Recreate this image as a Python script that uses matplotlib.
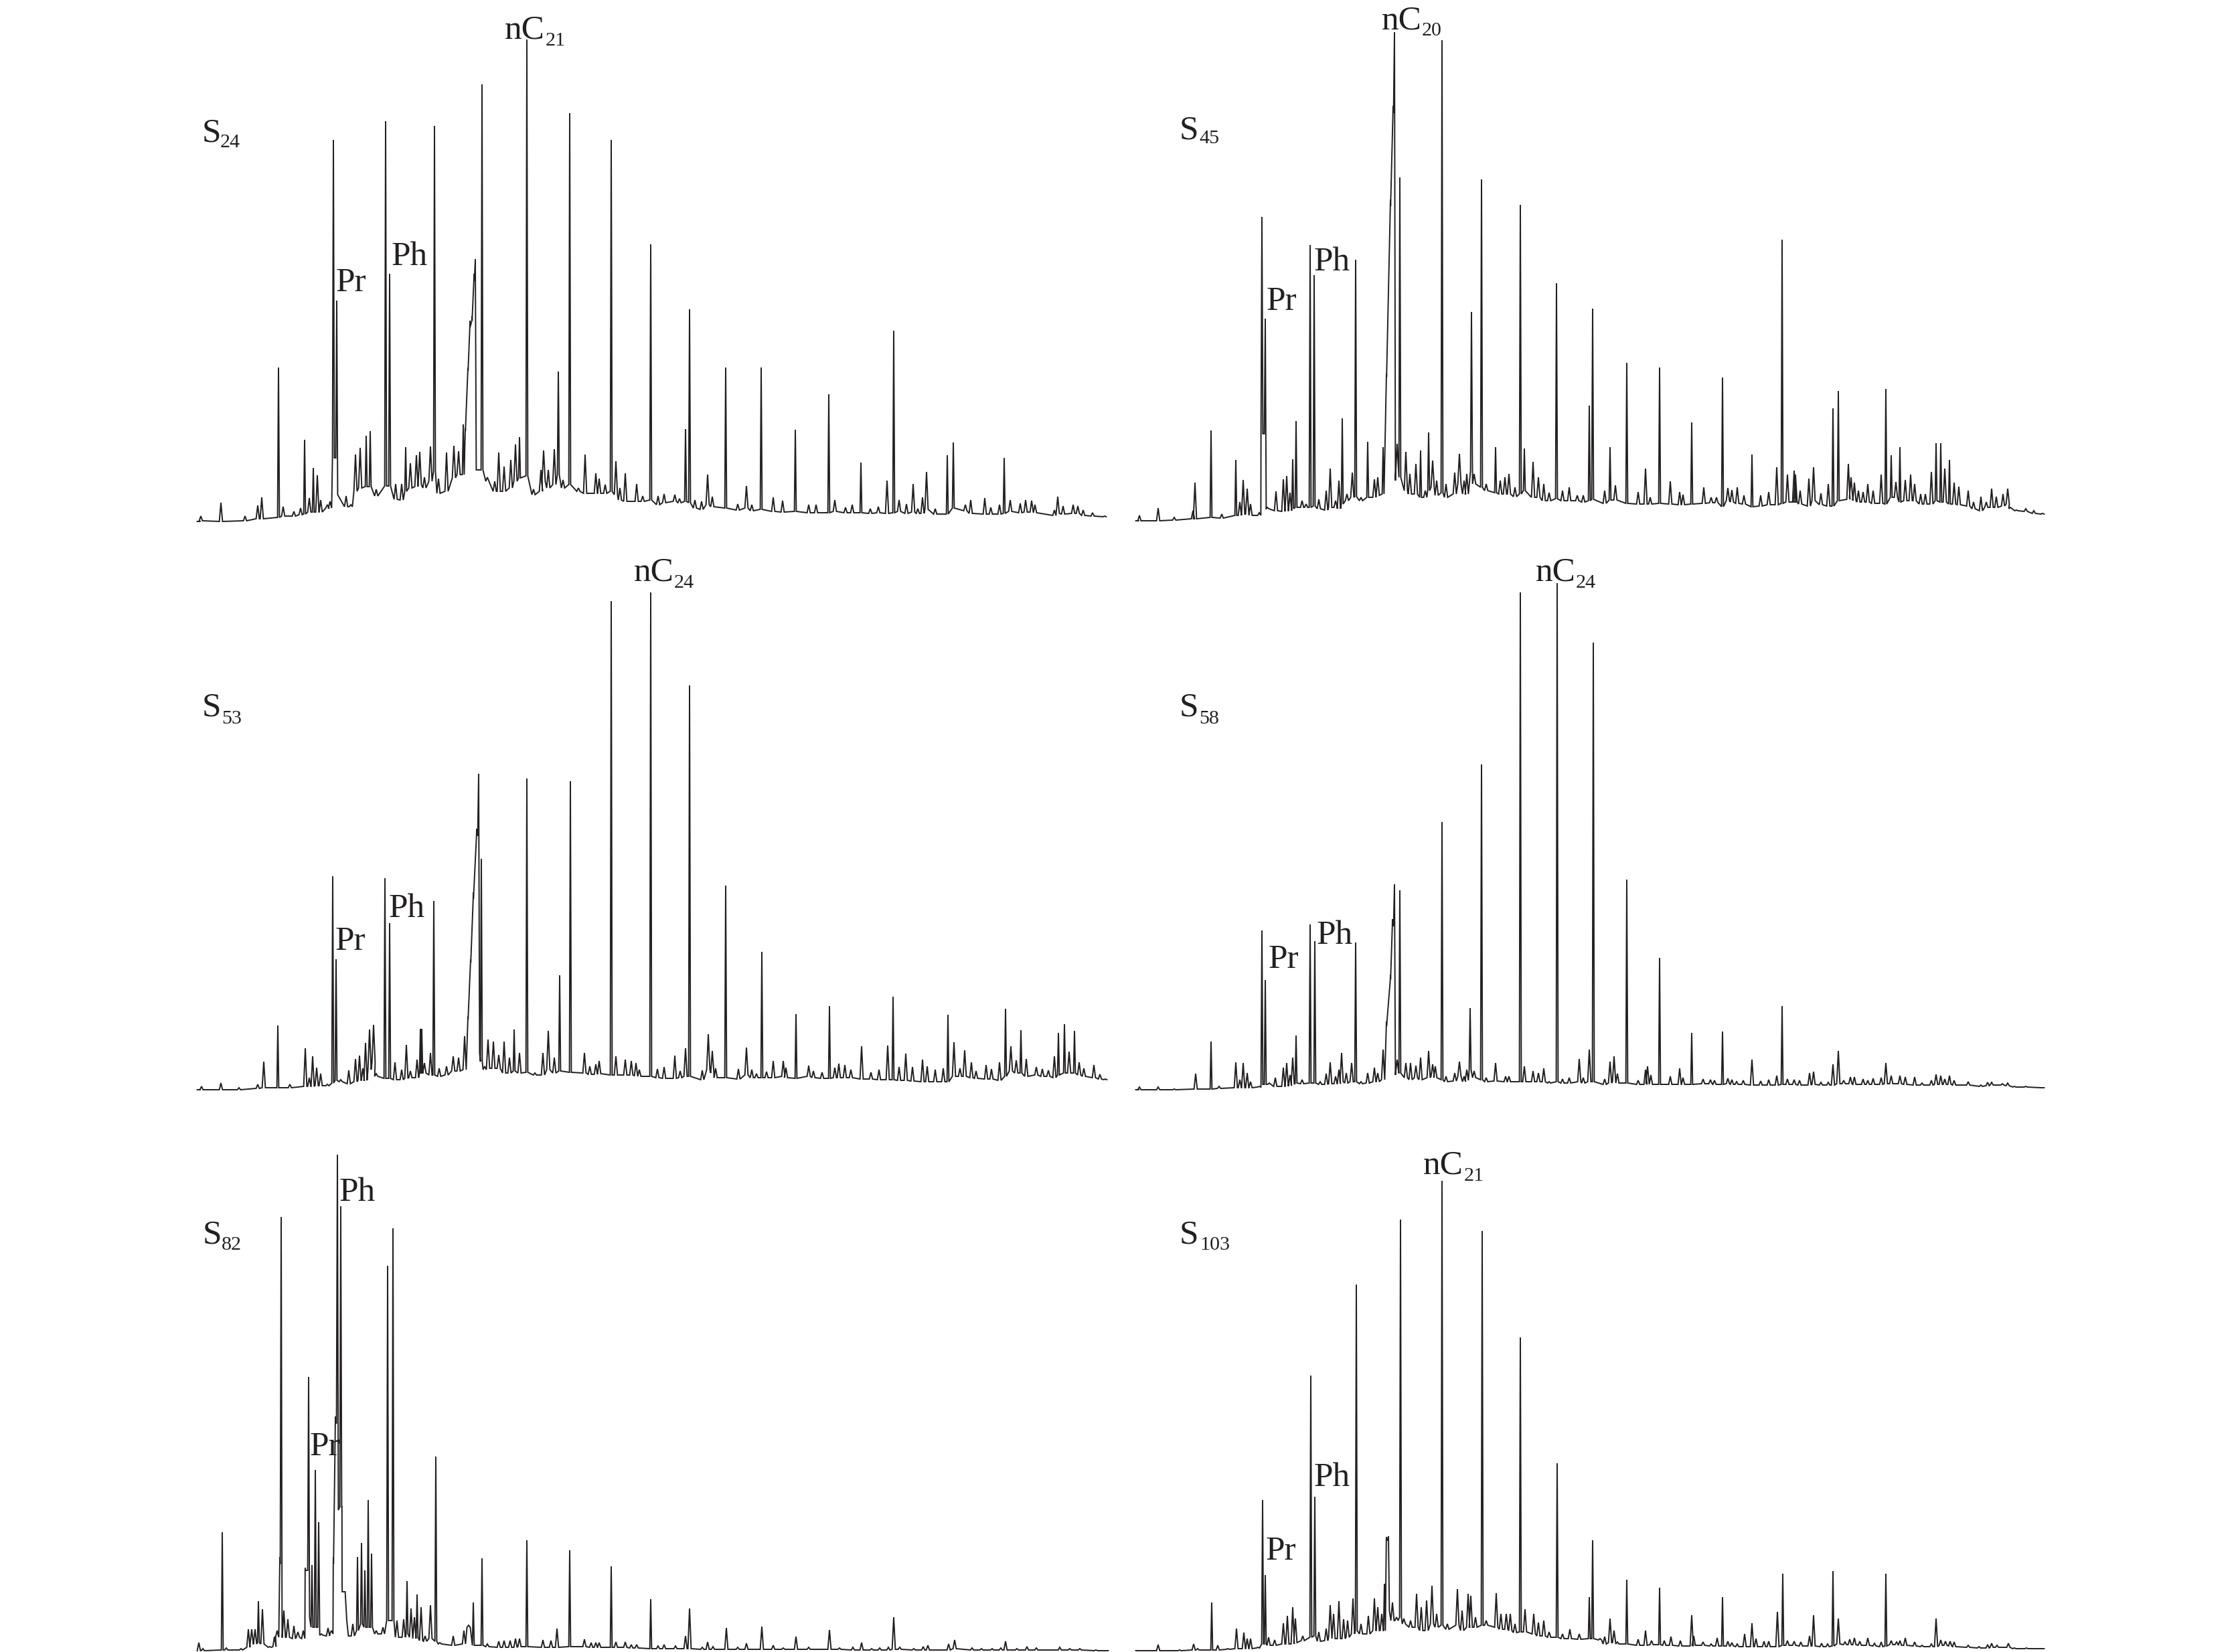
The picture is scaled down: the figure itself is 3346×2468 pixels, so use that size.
#!/usr/bin/env python3
"""Six gas chromatograms (S24, S45, S53, S58, S82, S103) with Pr, Ph and nC labels."""

import matplotlib
matplotlib.use('Agg')
matplotlib.rcParams['font.family'] = ['Liberation Serif', 'DejaVu Serif']
import matplotlib.pyplot as plt
import numpy as np

WIDTH, HEIGHT = 3346, 2468
INK = '#231f20'

# retention position, peak top and peak foot
s24_x = [0, 3, 33, 69, 88, 94, 119, 126, 142, 152, 158, 165, 171, 177, 182, 192, 196, 201, 206, 220, 227, 234, 241, 250, 256, 265, 279, 285, 294, 303, 309, 316, 325, 330, 337, 346, 352, 358, 370, 381, 388, 395, 398, 402, 405, 408, 411, 413, 423, 431, 442, 448, 456, 466, 473, 479, 490, 500, 511, 515, 522, 531, 537, 544, 554, 567, 577, 593, 598, 607, 616, 623, 629, 637, 654, 663, 675, 686, 695, 711, 718, 727, 733, 741, 751, 760, 767, 787, 805, 818, 826, 840, 858, 872, 891, 911, 922, 941, 950, 966, 976, 989, 1003, 1015, 1028, 1038, 1046, 1057, 1067, 1074, 1081, 1087, 1100, 1118, 1127, 1145, 1153, 1174, 1183, 1196, 1203, 1212, 1227, 1235, 1244, 1249, 1278, 1283, 1291, 1306, 1313, 1321, 1335, 1353]
s24_top = [0, 8, 28, 8, 24, 36, 230, 22, 15, 20, 122, 35, 80, 69, 32, 25, 30, 570, 330, 38, 25, 100, 110, 128, 135, 48, 598, 370, 56, 56, 111, 87, 99, 104, 66, 112, 591, 64, 103, 113, 105, 145, 140, 230, 300, 307, 370, 392, 653, 66, 60, 103, 82, 92, 115, 126, 720, 48, 77, 106, 77, 108, 224, 62, 610, 50, 100, 72, 64, 55, 570, 90, 50, 72, 56, 38, 414, 38, 41, 40, 34, 138, 317, 32, 30, 70, 37, 230, 26, 53, 25, 230, 36, 31, 137, 25, 25, 190, 32, 21, 25, 88, 19, 22, 61, 285, 32, 26, 56, 19, 36, 74, 19, 99, 118, 25, 32, 35, 21, 25, 95, 32, 27, 32, 31, 25, 17, 37, 23, 25, 23, 17, 13, 8]
s24_foot = [0, 1, 0, 1, 4, 4, 6, 8, 8, 10, 11, 14, 14, 14, 14, 20, 20, 95, 40, 22, 22, 45, 50, 52, 52, 38, 53, 53, 33, 32, 45, 50, 52, 55, 50, 60, 75, 42, 45, 65, 70, 70, 135, 225, 290, 300, 360, 77, 77, 60, 45, 45, 45, 50, 60, 65, 68, 40, 45, 60, 50, 55, 70, 50, 55, 45, 42, 42, 42, 42, 45, 40, 32, 30, 30, 30, 32, 25, 28, 30, 28, 30, 28, 20, 18, 25, 22, 20, 17, 20, 16, 18, 15, 14, 15, 13, 13, 13, 15, 13, 13, 13, 12, 13, 12, 13, 15, 12, 14, 12, 12, 18, 11, 11, 20, 16, 12, 11, 11, 11, 12, 15, 13, 14, 14, 13, 9, 12, 11, 12, 12, 9, 8, 7]

s45_x = [0, 3, 31, 55, 83, 86, 110, 126, 147, 153, 158, 164, 169, 182, 186, 191, 194, 207, 218, 223, 228, 232, 237, 246, 252, 258, 264, 271, 282, 288, 296, 301, 306, 313, 321, 326, 334, 344, 354, 359, 367, 372, 378, 382, 384, 388, 392, 401, 407, 416, 423, 430, 435, 441, 447, 455, 461, 474, 481, 488, 492, 499, 503, 514, 521, 535, 542, 549, 555, 564, 572, 578, 591, 599, 607, 615, 626, 635, 645, 657, 666, 675, 680, 698, 706, 714, 731, 748, 759, 766, 780, 796, 810, 815, 828, 846, 857, 865, 874, 882, 888, 896, 906, 918, 931, 943, 955, 963, 971, 981, 983, 990, 1003, 1010, 1021, 1032, 1039, 1047, 1062, 1066, 1071, 1077, 1084, 1091, 1099, 1111, 1118, 1126, 1133, 1139, 1147, 1155, 1161, 1170, 1177, 1186, 1193, 1200, 1206, 1213, 1220, 1227, 1241, 1249, 1260, 1268, 1276, 1283, 1293, 1300, 1304, 1313, 1327, 1339, 1352]
s45_top = [0, 8, 19, 5, 15, 57, 135, 10, 91, 28, 61, 48, 25, 12, 454, 302, 20, 44, 62, 67, 42, 92, 149, 30, 25, 412, 367, 32, 45, 78, 30, 60, 153, 40, 72, 390, 35, 118, 62, 65, 110, 220, 480, 620, 730, 115, 513, 103, 70, 85, 105, 45, 132, 90, 60, 718, 55, 72, 100, 60, 70, 312, 70, 510, 55, 110, 60, 65, 70, 50, 472, 108, 88, 65, 55, 42, 355, 45, 50, 38, 38, 172, 317, 45, 110, 53, 236, 43, 78, 35, 229, 59, 43, 39, 147, 50, 35, 35, 214, 49, 46, 50, 38, 99, 38, 43, 80, 420, 69, 75, 69, 45, 63, 80, 41, 55, 168, 194, 85, 65, 57, 45, 43, 55, 45, 69, 197, 98, 58, 110, 61, 69, 55, 40, 40, 73, 116, 116, 78, 91, 57, 51, 45, 28, 36, 28, 48, 36, 40, 48, 20, 16, 18, 15, 11]
s45_foot = [0, 0, 0, 1, 3, 3, 5, 4, 8, 8, 10, 10, 8, 8, 130, 18, 18, 15, 14, 15, 15, 18, 20, 20, 20, 20, 22, 18, 16, 20, 20, 18, 25, 30, 35, 36, 30, 35, 35, 38, 40, 215, 470, 610, 60, 68, 65, 45, 40, 40, 35, 35, 45, 50, 38, 42, 35, 40, 55, 40, 40, 75, 55, 50, 45, 42, 40, 40, 40, 36, 40, 45, 35, 35, 30, 30, 33, 30, 30, 30, 28, 30, 32, 26, 31, 31, 26, 25, 25, 25, 26, 25, 24, 24, 25, 26, 27, 27, 21, 30, 28, 26, 25, 21, 22, 24, 24, 26, 28, 28, 28, 25, 22, 30, 24, 22, 22, 30, 32, 35, 30, 28, 28, 28, 26, 26, 25, 35, 35, 28, 30, 30, 30, 25, 25, 25, 30, 28, 28, 25, 25, 24, 22, 18, 15, 20, 20, 20, 22, 25, 18, 15, 14, 11, 10]

s53_x = [0, 4, 33, 60, 88, 97, 118, 136, 159, 165, 170, 176, 182, 192, 200, 205, 212, 224, 234, 240, 245, 249, 255, 261, 265, 278, 285, 293, 303, 310, 316, 326, 331, 333, 337, 346, 351, 359, 370, 380, 388, 397, 402, 406, 410, 415, 418, 422, 427, 432, 440, 448, 456, 464, 471, 479, 490, 502, 514, 522, 531, 539, 555, 576, 584, 593, 598, 616, 623, 637, 646, 653, 658, 675, 685, 695, 711, 719, 727, 733, 752, 761, 767, 772, 787, 806, 818, 826, 833, 841, 848, 858, 873, 877, 892, 911, 918, 931, 942, 950, 956, 965, 974, 990, 1004, 1016, 1029, 1037, 1046, 1056, 1066, 1081, 1088, 1100, 1112, 1119, 1128, 1137, 1144, 1154, 1161, 1176, 1184, 1196, 1205, 1213, 1221, 1228, 1236, 1251, 1260, 1269, 1278, 1284, 1293, 1300, 1308, 1315, 1322, 1337, 1346, 1354]
s53_top = [0, 5, 10, 3, 8, 42, 96, 8, 62, 18, 50, 33, 24, 8, 319, 195, 15, 29, 46, 51, 32, 70, 90, 97, 24, 316, 249, 41, 30, 67, 28, 45, 91, 91, 40, 55, 282, 32, 35, 50, 48, 80, 110, 195, 295, 390, 472, 345, 35, 75, 72, 52, 72, 48, 90, 55, 465, 25, 55, 88, 48, 171, 461, 55, 35, 38, 43, 730, 50, 45, 43, 40, 30, 743, 31, 34, 51, 28, 62, 604, 29, 83, 58, 32, 305, 31, 63, 30, 24, 206, 27, 43, 43, 33, 113, 36, 28, 26, 125, 33, 39, 37, 30, 65, 26, 30, 66, 139, 34, 54, 34, 45, 35, 30, 32, 112, 71, 32, 59, 41, 28, 37, 31, 41, 121, 65, 44, 89, 46, 34, 31, 29, 50, 85, 98, 57, 88, 41, 32, 37, 23, 16]
s53_foot = [0, 0, 0, 0, 2, 3, 3, 3, 5, 5, 5, 6, 6, 6, 10, 14, 12, 9, 12, 14, 14, 14, 30, 40, 20, 17, 17, 15, 15, 17, 18, 18, 25, 25, 25, 22, 22, 20, 22, 28, 28, 30, 105, 190, 285, 380, 55, 42, 30, 32, 32, 32, 25, 25, 28, 25, 26, 22, 22, 30, 25, 28, 26, 25, 23, 23, 24, 22, 22, 22, 22, 21, 20, 20, 18, 17, 17, 18, 20, 20, 15, 30, 25, 18, 18, 16, 22, 18, 18, 18, 18, 18, 20, 18, 17, 20, 18, 17, 17, 18, 18, 18, 18, 16, 16, 15, 15, 15, 14, 14, 13, 12, 12, 12, 12, 12, 20, 20, 20, 18, 17, 16, 16, 14, 20, 28, 25, 25, 20, 22, 20, 20, 18, 22, 25, 25, 25, 22, 20, 18, 16, 15]

s58_x = [0, 3, 31, 55, 87, 110, 122, 147, 153, 158, 164, 169, 182, 186, 191, 197, 206, 218, 223, 228, 232, 237, 246, 258, 265, 273, 282, 288, 296, 301, 305, 312, 320, 326, 334, 344, 354, 359, 367, 372, 378, 381, 384, 388, 392, 401, 408, 416, 423, 435, 441, 445, 455, 461, 474, 481, 488, 492, 497, 503, 514, 521, 535, 550, 555, 572, 578, 591, 599, 607, 615, 627, 635, 645, 660, 666, 675, 681, 698, 706, 712, 717, 731, 748, 759, 762, 767, 780, 796, 810, 815, 828, 845, 856, 862, 874, 882, 888, 895, 905, 918, 931, 943, 955, 963, 971, 981, 989, 1004, 1010, 1021, 1032, 1039, 1047, 1055, 1065, 1071, 1084, 1091, 1099, 1111, 1118, 1126, 1139, 1147, 1161, 1172, 1186, 1193, 1200, 1206, 1213, 1220, 1241, 1260, 1270, 1276, 1292, 1300, 1310, 1327, 1352]
s58_top = [0, 4, 4, 1, 24, 72, 5, 41, 15, 40, 25, 12, 5, 238, 164, 10, 18, 33, 40, 22, 48, 81, 15, 247, 222, 12, 24, 41, 20, 30, 55, 25, 40, 220, 12, 25, 33, 25, 60, 102, 172, 255, 307, 45, 298, 40, 40, 36, 48, 58, 38, 35, 400, 20, 25, 42, 20, 30, 122, 28, 486, 18, 40, 20, 20, 743, 35, 28, 25, 32, 12, 757, 16, 18, 46, 18, 60, 668, 16, 42, 50, 24, 314, 14, 30, 35, 22, 197, 20, 32, 18, 85, 16, 15, 14, 87, 17, 15, 12, 14, 45, 13, 15, 21, 125, 16, 15, 14, 25, 27, 11, 11, 38, 58, 14, 19, 19, 16, 14, 17, 18, 40, 21, 21, 19, 19, 10, 14, 23, 21, 16, 21, 14, 12, 7, 11, 11, 9, 10, 5, 5, 3]
s58_foot = [0, 0, 0, 0, 1, 1, 2, 3, 3, 3, 3, 3, 4, 8, 8, 8, 5, 5, 5, 6, 8, 10, 9, 10, 10, 8, 8, 9, 9, 9, 12, 10, 12, 12, 9, 10, 12, 12, 15, 95, 165, 245, 22, 25, 25, 18, 15, 18, 15, 18, 20, 18, 15, 12, 13, 20, 12, 14, 30, 18, 15, 12, 13, 12, 12, 12, 12, 12, 12, 12, 10, 12, 10, 10, 12, 10, 12, 12, 8, 10, 12, 10, 10, 8, 8, 10, 8, 8, 8, 8, 8, 8, 9, 9, 8, 8, 9, 8, 8, 8, 7, 7, 7, 7, 8, 8, 8, 7, 7, 8, 7, 7, 7, 9, 9, 9, 8, 8, 8, 8, 8, 9, 9, 9, 8, 7, 7, 7, 8, 8, 8, 8, 7, 7, 5, 6, 7, 7, 6, 4, 4, 3]

s82_x = [0, 6, 35, 41, 63, 74, 79, 84, 89, 95, 106, 113, 117, 121, 123, 127, 133, 142, 148, 156, 159, 164, 169, 174, 179, 183, 193, 198, 201, 204, 207, 212, 214, 221, 230, 237, 243, 248, 253, 258, 265, 275, 282, 290, 296, 306, 311, 317, 322, 326, 332, 338, 346, 354, 360, 380, 396, 403, 410, 423, 431, 448, 456, 465, 473, 479, 490, 514, 526, 535, 554, 576, 586, 593, 598, 616, 623, 637, 646, 654, 675, 686, 695, 712, 727, 733, 752, 760, 768, 788, 805, 818, 841, 858, 873, 892, 911, 942, 957, 977, 990, 1005, 1017, 1030, 1038, 1047, 1068, 1082, 1089, 1120, 1129, 1155, 1169, 1185, 1198, 1205, 1222, 1237, 1251, 1286, 1301, 1316, 1340, 1356]
s82_top = [12, 3, 177, 4, 3, 32, 32, 32, 74, 62, 6, 21, 30, 140, 648, 60, 47, 37, 28, 30, 124, 409, 128, 270, 192, 25, 34, 30, 140, 350, 741, 664, 95, 45, 40, 140, 161, 120, 225, 145, 30, 35, 575, 631, 45, 47, 104, 63, 50, 84, 65, 22, 68, 290, 12, 22, 30, 38, 72, 138, 10, 14, 15, 15, 18, 18, 165, 16, 15, 33, 150, 17, 12, 12, 12, 126, 13, 13, 9, 9, 77, 7, 9, 7, 22, 63, 5, 13, 6, 34, 5, 11, 36, 8, 4, 21, 5, 31, 4, 5, 12, 3, 4, 5, 50, 5, 3, 6, 8, 10, 16, 4, 3, 3, 4, 14, 3, 6, 4, 5, 3, 3, 1, 0]
s82_foot = [0, 0, 1, 1, 1, 5, 10, 10, 12, 10, 5, 6, 20, 130, 20, 20, 20, 18, 20, 18, 120, 50, 35, 35, 35, 23, 22, 25, 130, 340, 210, 215, 88, 22, 22, 30, 40, 35, 35, 35, 25, 25, 45, 45, 20, 20, 25, 20, 18, 20, 15, 14, 18, 14, 10, 8, 10, 35, 8, 8, 6, 5, 5, 5, 5, 6, 6, 5, 5, 5, 6, 6, 5, 5, 5, 5, 5, 5, 4, 4, 3, 3, 3, 3, 3, 3, 2, 2, 2, 2, 2, 2, 2, 2, 2, 2, 2, 2, 2, 1, 1, 1, 1, 1, 2, 2, 1, 1, 1, 1, 3, 1, 1, 1, 1, 1, 1, 1, 1, 1, 1, 1, 0, 0]

s103_x = [0, 31, 63, 84, 90, 111, 120, 135, 148, 159, 164, 169, 180, 187, 191, 196, 205, 218, 224, 232, 236, 247, 259, 265, 271, 282, 288, 293, 301, 308, 314, 322, 327, 334, 345, 354, 359, 365, 369, 372, 375, 381, 387, 393, 398, 408, 417, 424, 432, 440, 447, 455, 463, 478, 485, 494, 498, 505, 515, 521, 536, 543, 551, 557, 564, 572, 579, 592, 599, 607, 615, 627, 635, 646, 660, 675, 680, 691, 698, 706, 712, 717, 731, 748, 759, 768, 780, 787, 797, 811, 828, 831, 845, 857, 866, 874, 882, 888, 896, 907, 918, 924, 936, 943, 956, 964, 971, 981, 991, 1004, 1010, 1022, 1031, 1039, 1047, 1057, 1064, 1071, 1079, 1091, 1101, 1111, 1118, 1126, 1134, 1139, 1147, 1161, 1172, 1186, 1193, 1200, 1207, 1214, 1220, 1241, 1257, 1270, 1276, 1284, 1301, 1310, 1328, 1352]
s103_top = [0, 9, 1, 10, 3, 72, 8, 3, 33, 27, 18, 18, 5, 225, 113, 20, 16, 41, 52, 65, 48, 22, 411, 230, 28, 33, 68, 55, 74, 47, 45, 78, 547, 40, 52, 78, 65, 55, 100, 170, 171, 72, 50, 644, 48, 45, 85, 65, 75, 97, 55, 702, 40, 92, 60, 85, 82, 50, 627, 45, 86, 55, 55, 55, 40, 468, 62, 55, 42, 45, 28, 280, 25, 32, 25, 80, 165, 18, 21, 48, 30, 13, 106, 17, 30, 15, 94, 15, 21, 15, 53, 22, 13, 10, 19, 80, 14, 12, 10, 25, 41, 18, 14, 14, 58, 115, 15, 14, 13, 22, 53, 11, 10, 119, 48, 13, 17, 19, 14, 19, 11, 13, 115, 15, 13, 15, 19, 13, 8, 10, 48, 16, 14, 14, 13, 8, 6, 9, 11, 8, 11, 4, 4, 3]
s103_foot = [0, 0, 0, 1, 1, 1, 1, 2, 3, 3, 3, 3, 4, 10, 10, 8, 8, 10, 10, 10, 12, 15, 20, 22, 14, 15, 20, 18, 18, 18, 20, 25, 30, 25, 25, 30, 30, 30, 30, 165, 60, 45, 45, 50, 40, 35, 35, 30, 30, 40, 35, 38, 32, 38, 30, 35, 35, 35, 38, 38, 35, 32, 32, 30, 27, 28, 28, 25, 22, 22, 20, 20, 18, 18, 17, 18, 18, 16, 10, 12, 12, 10, 10, 8, 8, 9, 9, 8, 8, 7, 7, 8, 8, 7, 7, 7, 7, 7, 6, 6, 6, 6, 6, 6, 6, 8, 8, 8, 7, 7, 7, 6, 6, 7, 10, 9, 9, 9, 8, 8, 7, 6, 7, 9, 9, 8, 8, 7, 6, 6, 6, 8, 8, 7, 6, 5, 4, 4, 5, 5, 5, 3, 3, 3]

# x origin, baseline y and trace of each panel, in reference pixels
panels = [
    (297, 779, s24_x, s24_top, s24_foot),
    (1699, 778, s45_x, s45_top, s45_foot),
    (297, 1628, s53_x, s53_top, s53_foot),
    (1699, 1628, s58_x, s58_top, s58_foot),
    (297, 2466, s82_x, s82_top, s82_foot),
    (1699, 2466, s103_x, s103_top, s103_foot),
]

# (text, left, baseline, subscript, left, baseline)
labels = [
    ('S', 302, 211, '24', 329, 220),
    ('S', 1762, 207, '45', 1791, 214),
    ('S', 302, 1070, '53', 331, 1081),
    ('S', 1762, 1070, '58', 1791, 1081),
    ('S', 303, 1858, '82', 331, 1867),
    ('S', 1762, 1858, '103', 1792, 1867),
    ('nC', 754, 57, '21', 815, 68),
    ('nC', 2064, 43, '20', 2124, 53),
    ('nC', 947, 868, '24', 1007, 878),
    ('nC', 2294, 868, '24', 2354, 878),
    ('nC', 2126, 1753, '21', 2187, 1764),
    ('Pr', 502, 435, '', 0, 0),
    ('Ph', 585, 396, '', 0, 0),
    ('Pr', 1892, 463, '', 0, 0),
    ('Ph', 1963, 404, '', 0, 0),
    ('Pr', 501, 1419, '', 0, 0),
    ('Ph', 581, 1370, '', 0, 0),
    ('Pr', 1895, 1446, '', 0, 0),
    ('Ph', 1967, 1410, '', 0, 0),
    ('Pr', 463, 2174, '', 0, 0),
    ('Ph', 507, 1794, '', 0, 0),
    ('Pr', 1891, 2330, '', 0, 0),
    ('Ph', 1963, 2220, '', 0, 0),
]


def spikes(x, top, foot):
    """Turn peak lists into the vertices of one continuous trace."""
    x, top, foot = np.array(x, float), np.array(top, float), np.array(foot, float)
    rise = top - foot
    # tall spikes are thin, small bumps wider, points on a ramp almost nothing
    half = np.where(rise > 60, 1.4, 2.4)
    half = np.where((foot > 80) & (rise <= 12), 0.2, half)
    # after a raised foot (doublet or ramp) the next peak starts from that height
    prev = np.r_[foot[0], foot[:-1]]
    left = np.where(prev > 80, np.maximum(prev, foot), foot)
    xs = np.column_stack([x - half, x, x + half]).ravel()
    ys = np.column_stack([left, top, foot]).ravel()
    return xs, ys


fig = plt.figure(figsize=(WIDTH / 200, HEIGHT / 200), dpi=200, facecolor='white')

for x0, base, x, top, foot in panels:
    # one data unit is one reference pixel
    ax = fig.add_axes([x0 / WIDTH, 1 - base / HEIGHT, 1360 / WIDTH, 770 / HEIGHT])
    ax.set_xlim(0, 1360)
    ax.set_ylim(0, 770)
    ax.axis('off')
    xs, ys = spikes(x, top, foot)
    ax.plot(xs, ys, color=INK, lw=0.7, solid_joinstyle='miter', clip_on=False)

for name, nx, ny, sub, sx, sy in labels:
    fig.text(nx / WIDTH, 1 - ny / HEIGHT, name, fontsize=18.5, color=INK, ha='left', va='baseline')
    if sub:
        fig.text(sx / WIDTH, 1 - sy / HEIGHT, sub, fontsize=10.8, color=INK, ha='left', va='baseline')

fig.savefig('out.png', dpi=200, facecolor='white')
plt.close(fig)
